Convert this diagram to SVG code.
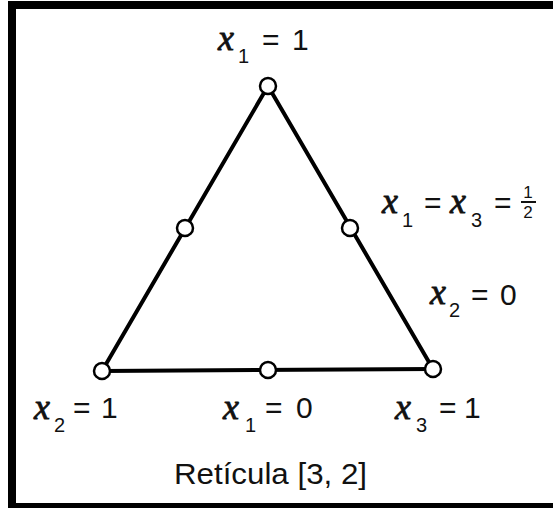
<svg xmlns="http://www.w3.org/2000/svg" width="553" height="508" viewBox="0 0 553 508">
<style>
.edge{stroke:#000;stroke-width:4;fill:none;stroke-linecap:round}
.pt{fill:#fff;stroke:#000;stroke-width:2.5}
.v{font-family:"Liberation Serif","Times New Roman",serif;font-style:italic;font-size:36px;fill:#111;stroke:#111;stroke-width:0.8}
.s{font-family:"Liberation Sans","DejaVu Sans",sans-serif;font-size:20px;fill:#111}
.n{font-family:"Liberation Sans","DejaVu Sans",sans-serif;font-size:30px;fill:#111}
.f{font-family:"Liberation Sans","DejaVu Sans",sans-serif;font-size:17px;fill:#111;text-anchor:middle}
</style>
<rect width="553" height="508" fill="#fff"/>
<g id="frame" fill="#000">
<rect x="8" y="1" width="8" height="507"/>
<rect x="8" y="1" width="545" height="8"/>
<rect x="8" y="503" width="545" height="5"/>
</g>
<g id="connectors">
<line class="edge" x1="268" y1="86" x2="102" y2="371"/>
<line class="edge" x1="268" y1="86" x2="433" y2="369"/>
<line class="edge" x1="102" y1="371" x2="433" y2="369"/>
</g>
<g id="n-top"><circle class="pt" cx="268" cy="86" r="8"/></g>
<g id="n-left"><circle class="pt" cx="185" cy="228" r="8"/></g>
<g id="n-right"><circle class="pt" cx="350" cy="228" r="8"/></g>
<g id="n-bl"><circle class="pt" cx="102" cy="371" r="8"/></g>
<g id="n-bm"><circle class="pt" cx="268" cy="370" r="8"/></g>
<g id="n-br"><circle class="pt" cx="433" cy="369" r="8"/></g>
<g id="labels">
<text class="v" x="218" y="50">x</text><text class="s" x="238" y="63">1</text><text class="n" x="262" y="50">=</text><text class="n" x="292" y="50">1</text>
<text class="v" x="382" y="213">x</text><text class="s" x="402" y="227">1</text><text class="n" x="424" y="213">=</text><text class="v" x="450" y="213">x</text><text class="s" x="471" y="227">3</text><text class="n" x="494" y="213">=</text>
<text class="f" x="528" y="198">1</text><line x1="521" y1="202" x2="536" y2="202" stroke="#111" stroke-width="2"/><text class="f" x="528" y="218">2</text>
<text class="v" x="430" y="304">x</text><text class="s" x="449" y="317">2</text><text class="n" x="471" y="305">=</text><text class="n" x="500" y="305">0</text>
<text class="v" x="34" y="419">x</text><text class="s" x="54" y="432">2</text><text class="n" x="73" y="418">=</text><text class="n" x="101" y="418">1</text>
<text class="v" x="223" y="419">x</text><text class="s" x="245" y="432">1</text><text class="n" x="265" y="418">=</text><text class="n" x="296" y="418">0</text>
<text class="v" x="395" y="419">x</text><text class="s" x="416" y="432">3</text><text class="n" x="439" y="418">=</text><text class="n" x="464" y="418">1</text>
<text class="n" x="174" y="484" textLength="193" lengthAdjust="spacingAndGlyphs">Retícula [3, 2]</text>
</g>
</svg>
